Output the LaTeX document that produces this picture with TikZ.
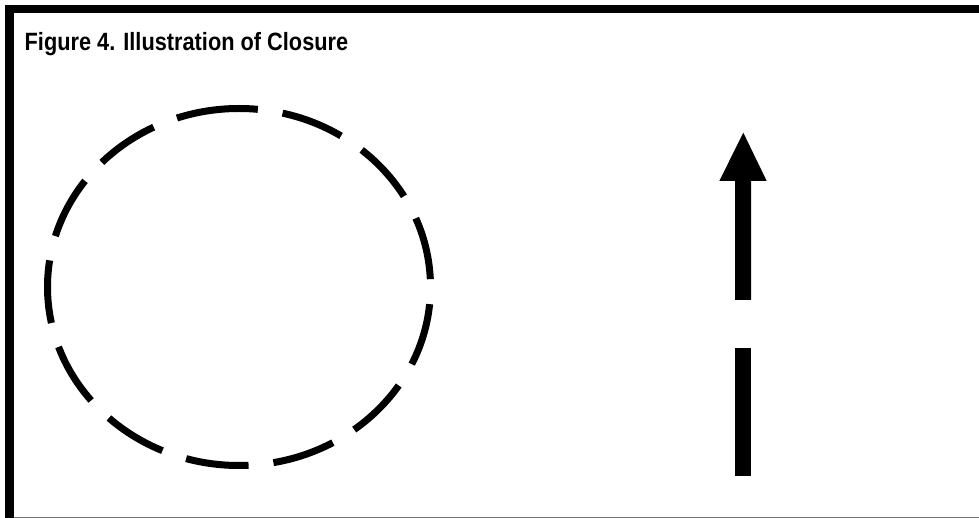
\documentclass[tikz,border=0pt]{standalone}
\usepackage{fontspec}
\setmainfont{Liberation Sans}
\newfontfamily\titlefont[FakeStretch=0.87]{Liberation Sans Bold}
\begin{document}
\begin{tikzpicture}[x=1pt,y=-1pt,
  framefill/.style={fill=black},
  circdash/.style={draw=black, line width=7pt, dash pattern=on 63pt off 25pt},
  arrowfill/.style={fill=black},
  title/.style={anchor=base west, inner sep=0pt, font=\titlefont\fontsize{25}{30}\selectfont}]
\useasboundingbox (0,0) rectangle (979,518);
% frame
\fill[framefill] (5,5) rectangle (979,13.5);
\fill[framefill] (5,5) rectangle (13.5,517.5);
\draw[black!55, line width=1pt] (13.5,517) -- (979,517);
% title
\node[title] (t) at (24.5,50.5) {Figure 4. Illustration of Closure};
% dashed circle
\coordinate (c) at (239,287);
\draw[circdash] ([shift={(270:191.5 and 178.5)}]c) arc[start angle=270, end angle=-90, x radius=191.5, y radius=178.5];
% arrow with gap
\fill[arrowfill] (743.3,132.7) -- (766.7,181) -- (751,181) -- (751,300) -- (735,300) -- (735,181) -- (719.3,181) -- cycle;
\fill[arrowfill] (735,348.3) rectangle (751,476);
\end{tikzpicture}
\end{document}
